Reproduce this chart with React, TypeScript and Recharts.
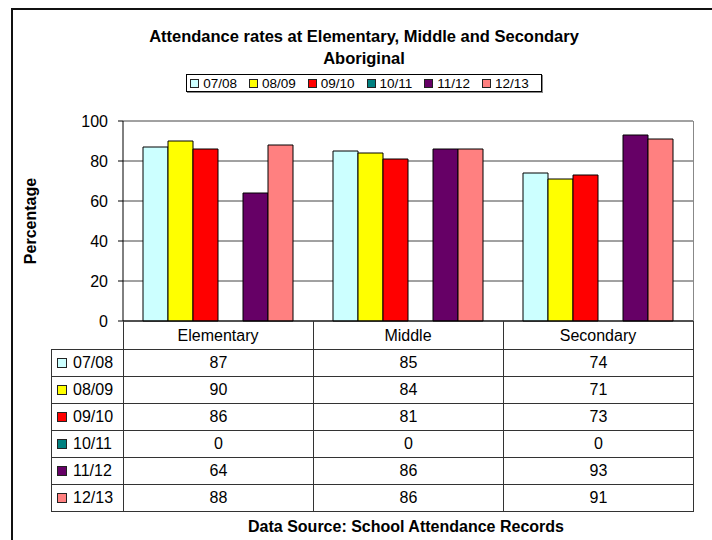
import { BarChart, Bar, XAxis, YAxis, CartesianGrid } from 'recharts';

const categories = ['Elementary', 'Middle', 'Secondary'];
const seriesNames = ['07/08', '08/09', '09/10', '10/11', '11/12', '12/13'];
const v0708 = [87, 85, 74];
const v0809 = [90, 84, 71];
const v0910 = [86, 81, 73];
const v1011 = [0, 0, 0];
const v1112 = [64, 86, 93];
const v1213 = [88, 86, 91];
const yTicks = [0, 20, 40, 60, 80, 100];
const colors = ['#CCFFFF', '#FFFF00', '#FF0000', '#008080', '#660066', '#FF8080'];

const seriesValues = [v0708, v0809, v0910, v1011, v1112, v1213];

const data = categories.map((name, i) => {
  const row: Record<string, string | number> = { name };
  seriesNames.forEach((s, j) => {
    row[s] = seriesValues[j][i];
  });
  return row;
});

const FONT = '"Liberation Sans", Arial, sans-serif';
const LINE = '#333';

// plot box
const PLOT_LEFT = 123;
const PLOT_RIGHT = 693;
const PLOT_TOP = 121;
const PLOT_BOTTOM = 321;
const HEADER_H = 28;
const ROW_H = 27;
const TABLE_LEFT = 51;
const LEG_COL = PLOT_LEFT - TABLE_LEFT;
const CAT_W = (PLOT_RIGHT - PLOT_LEFT) / categories.length;

const CategoryTick = (props: any) => {
  const { x, y, payload } = props;
  return (
    <text x={x} y={y + 6} textAnchor="middle" dominantBaseline="central" fontSize={16} fontFamily={FONT} fill="#000">
      {payload.value}
    </text>
  );
};

const Swatch = ({ color, size }: { color: string; size: number }) => (
  <span
    style={{
      display: 'inline-block',
      width: size,
      height: size,
      boxSizing: 'border-box',
      background: color,
      border: '1px solid #222',
    }}
  />
);

export default function App() {
  const cell: React.CSSProperties = {
    border: `1px solid ${LINE}`,
    padding: 0,
    textAlign: 'center',
    fontSize: 16,
  };

  return (
    <div
      style={{
        position: 'absolute',
        left: 0,
        top: 0,
        width: 712,
        height: 540,
        overflow: 'hidden',
        background: '#fff',
        fontFamily: FONT,
        color: '#000',
      }}
    >
      {/* outer frame (cropped on right and bottom) */}
      <div
        style={{
          position: 'absolute',
          left: 11,
          top: 8,
          width: 760,
          height: 600,
          borderLeft: '2px solid #111',
          borderTop: '2px solid #111',
        }}
      />

      <div style={{ position: 'absolute', left: 0, width: 728, top: 25, textAlign: 'center', fontWeight: 'bold', fontSize: 16.5, lineHeight: '22px' }}>
        Attendance rates at Elementary, Middle and Secondary
        <br />
        Aboriginal
      </div>

      <div
        style={{
          position: 'absolute',
          left: 0,
          width: 728,
          top: 74,
          display: 'flex',
          justifyContent: 'center',
        }}
      >
        <div
          style={{
            display: 'flex',
            alignItems: 'center',
            border: '1px solid #000',
            height: 16,
            padding: '0 0 0 3px',
            fontSize: 13.5,
            boxShadow: '1px 1px 0 #888',
          }}
        >
          {seriesNames.map((s, i) => (
            <span key={s} style={{ display: 'flex', alignItems: 'center', marginRight: 12 }}>
              <Swatch color={colors[i]} size={9} />
              <span style={{ marginLeft: 4 }}>{s}</span>
            </span>
          ))}
        </div>
      </div>

      <div
        style={{
          position: 'absolute',
          left: 31,
          top: 221,
          transform: 'translate(-50%, -50%) rotate(-90deg)',
          fontWeight: 'bold',
          fontSize: 16,
          whiteSpace: 'nowrap',
        }}
      >
        Percentage
      </div>

      <div style={{ position: 'absolute', left: 0, top: 0 }}>
        <BarChart
          width={712}
          height={540}
          data={data}
          margin={{ top: PLOT_TOP, right: 712 - PLOT_RIGHT, left: PLOT_LEFT - 60, bottom: 540 - PLOT_BOTTOM - HEADER_H }}
          barCategoryGap={20}
          barGap={0}
        >
          <CartesianGrid vertical={false} stroke="#444" />
          <XAxis
            dataKey="name"
            height={HEADER_H}
            axisLine={{ stroke: '#000' }}
            tickLine={false}
            tick={<CategoryTick />}
            interval={0}
          />
          <YAxis
            width={60}
            domain={[0, 100]}
            ticks={yTicks}
            interval={0}
            axisLine={{ stroke: '#000' }}
            tickLine={{ stroke: '#000' }}
            tickSize={5}
            tickMargin={10}
            tick={{ fontSize: 16, fill: '#000', fontFamily: FONT }}
          />
          {seriesNames.map((s, i) => (
            <Bar key={s} dataKey={s} fill={colors[i]} stroke="#000" strokeWidth={1} isAnimationActive={false} />
          ))}
        </BarChart>
      </div>

      {/* right border of plot area */}
      <div style={{ position: 'absolute', left: PLOT_RIGHT, top: PLOT_TOP, width: 1, height: PLOT_BOTTOM - PLOT_TOP, background: '#888' }} />

      {/* data table */}
      <table
        style={{
          position: 'absolute',
          left: TABLE_LEFT,
          top: PLOT_BOTTOM,
          borderCollapse: 'collapse',
          tableLayout: 'fixed',
          width: PLOT_RIGHT - TABLE_LEFT + 1,
          fontFamily: FONT,
        }}
      >
        <colgroup>
          <col style={{ width: LEG_COL }} />
          {categories.map((c) => (
            <col key={c} style={{ width: CAT_W }} />
          ))}
        </colgroup>
        <tbody>
          <tr style={{ height: HEADER_H }}>
            <td style={{ padding: 0, border: 'none' }} />
            {categories.map((c) => (
              <td key={c} style={{ ...cell, borderTop: 'none' }} />
            ))}
          </tr>
          {seriesNames.map((s, j) => (
            <tr key={s} style={{ height: ROW_H }}>
              <td style={{ ...cell, textAlign: 'left', paddingLeft: 5, whiteSpace: 'nowrap' }}>
                <span style={{ display: 'inline-flex', alignItems: 'center' }}>
                  <Swatch color={colors[j]} size={10} />
                  <span style={{ marginLeft: 6, fontSize: 16 }}>{s}</span>
                </span>
              </td>
              {categories.map((c, i) => (
                <td key={c} style={cell}>
                  {seriesValues[j][i]}
                </td>
              ))}
            </tr>
          ))}
        </tbody>
      </table>

      <div
        style={{
          position: 'absolute',
          left: 406,
          top: 527,
          transform: 'translate(-50%, -50%)',
          fontWeight: 'bold',
          fontSize: 16,
          whiteSpace: 'nowrap',
        }}
      >
        Data Source: School Attendance Records
      </div>
    </div>
  );
}
